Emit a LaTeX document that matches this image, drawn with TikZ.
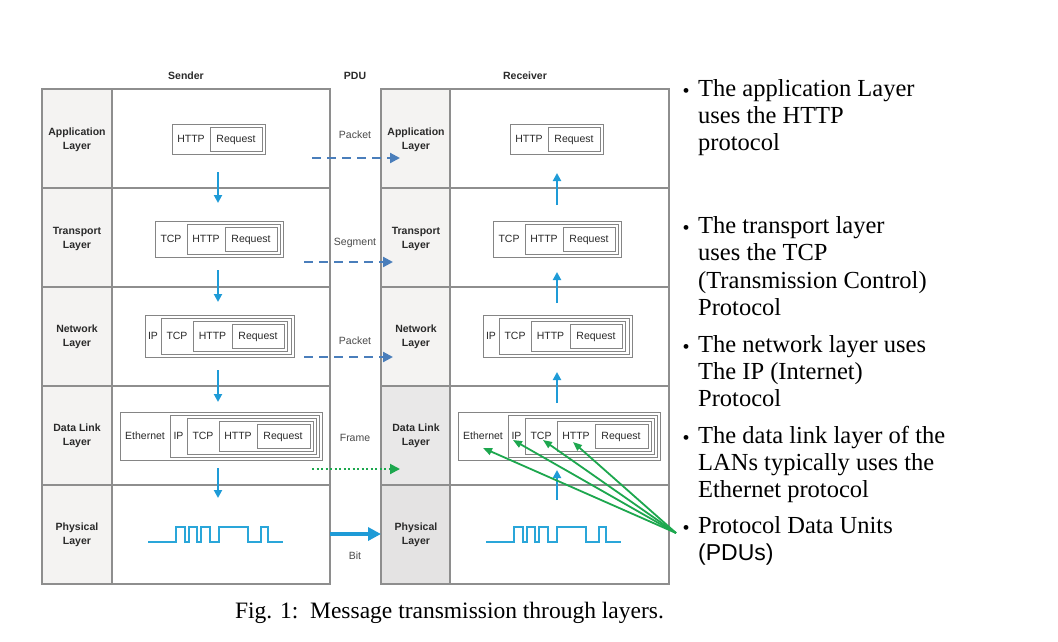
\documentclass[tikz,border=0pt]{standalone}
\usepackage{fontspec}
\setmainfont{Liberation Serif}
\newfontfamily\arialf{Liberation Sans}
\usetikzlibrary{arrows.meta,calc}

\definecolor{tblline}{HTML}{8E8E8E}
\definecolor{lblfill}{HTML}{F4F3F2}
\definecolor{lblfillB}{HTML}{E9E8E8}
\definecolor{lblfillC}{HTML}{E4E3E3}
\definecolor{boxline}{HTML}{858585}
\definecolor{txt}{HTML}{2A2A2A}
\definecolor{pdutxt}{HTML}{4A4A4A}
\definecolor{cyanarr}{HTML}{1E9BD7}
\definecolor{dasharr}{HTML}{4A7EBB}
\definecolor{grn}{HTML}{1DA74E}
\definecolor{wavec}{HTML}{2AA6D9}

\newcommand\nbox[4]{\draw[boxdraw] (#1,{#3-#4}) rectangle (#2,{#3+#4});}

\newcommand\stackboxes[1]{%
  % application
  \nbox{172}{265}{139}{15}\nbox{210}{262}{139}{12}
  \node[boxtxt] (#1-a-http) at (191,139) {HTTP};
  \node[boxtxt] (#1-a-req) at (236,139) {Request};
  % transport
  \nbox{155}{283}{239}{18}\nbox{187}{280}{239}{15}\nbox{225}{277}{239}{12}
  \node[boxtxt] (#1-t-tcp) at (171,239) {TCP};
  \node[boxtxt] (#1-t-http) at (206,239) {HTTP};
  \node[boxtxt] (#1-t-req) at (251,239) {Request};
  % network
  \nbox{145}{294}{336}{21}\nbox{161}{291}{336}{18}\nbox{193}{287.5}{336}{15}\nbox{232}{284}{336}{12}
  \node[boxtxt] (#1-n-ip) at (153,336) {IP};
  \node[boxtxt] (#1-n-tcp) at (177,336) {TCP};
  \node[boxtxt] (#1-n-http) at (212.5,336) {HTTP};
  \node[boxtxt] (#1-n-req) at (258,336) {Request};
  % data link
  \nbox{120}{322}{436}{24}\nbox{170}{319}{436}{21}\nbox{187}{316}{436}{18}\nbox{219}{313}{436}{15}\nbox{257}{310}{436}{12}
  \node[boxtxt] (#1-d-eth) at (145,436) {Ethernet};
  \node[boxtxt] (#1-d-ip) at (178.5,436) {IP};
  \node[boxtxt] (#1-d-tcp) at (203,436) {TCP};
  \node[boxtxt] (#1-d-http) at (238,436) {HTTP};
  \node[boxtxt] (#1-d-req) at (283,436) {Request};
  % physical signal
  \draw[wavestyle] (148,542) -- ++(28.3,0) -- ++(0,-15) -- ++(8.4,0) -- ++(0,15)
    -- ++(4.3,0) -- ++(0,-15) -- ++(8,0) -- ++(0,15)
    -- ++(4.3,0) -- ++(0,-15) -- ++(8.4,0) -- ++(0,15)
    -- ++(9,0) -- ++(0,-15) -- ++(29.3,0) -- ++(0,15)
    -- ++(13.3,0) -- ++(0,-15) -- ++(6.7,0) -- ++(0,15) -- ++(15,0);
}

\begin{document}
\begin{tikzpicture}[x=1pt,y=-1pt,
  tbl/.style={draw=tblline,line width=1.3pt},
  boxdraw/.style={draw=boxline,line width=0.9pt},
  boxtxt/.style={font=\arialf\fontsize{10.5}{13}\selectfont,text=txt,inner sep=0pt,text height=7.6pt,text depth=0pt},
  layerlbl/.style={font=\arialf\bfseries\fontsize{10.5}{14}\selectfont,text=txt,inner sep=0pt,align=center},
  headlbl/.style={font=\arialf\bfseries\fontsize{10.5}{13}\selectfont,text=txt,inner sep=0pt},
  pdulbl/.style={font=\arialf\fontsize{10.5}{13}\selectfont,text=pdutxt,inner sep=0pt},
  flowarrow/.style={draw=cyanarr,line width=2pt,-{Triangle[length=8pt,width=8pt]}},
  pduarrow/.style={draw=dasharr,line width=2.2pt,dash pattern=on 9pt off 6pt,-{Triangle[length=10pt,width=10pt]}},
  framearrow/.style={draw=grn,line width=2pt,dash pattern=on 2pt off 2.5pt,-{Triangle[length=10pt,width=10pt]}},
  bitarrow/.style={draw=cyanarr,line width=4pt,-{Triangle[length=13pt,width=13pt]}},
  pointer/.style={draw=grn,line width=1.8pt,-{Triangle[length=9pt,width=7pt]}},
  wavestyle/.style={draw=wavec,line width=1.8pt},
  bodytxt/.style={font=\fontsize{24.5}{27}\selectfont,inner sep=0pt,anchor=base west},
  bullettxt/.style={font=\fontsize{20}{20}\selectfont,inner sep=0pt},
]
\fill[white] (0,0) rectangle (1058,641);
\useasboundingbox (0,0) rectangle (1058,641);

% ---------- tables ----------
\fill[lblfill] (42,89) rectangle (112,584);
\fill[lblfill] (381,89) rectangle (450,386);
\fill[lblfillB] (381,386) rectangle (450,485);
\fill[lblfillC] (381,485) rectangle (450,584);
\draw[tbl] (42,89) rectangle (330,584);
\draw[tbl] (112,89) -- (112,584);
\draw[tbl] (381,89) rectangle (669,584);
\draw[tbl] (450,89) -- (450,584);
\foreach \yy in {188,287,386,485} {
  \draw[tbl] (42,\yy) -- (330,\yy);
  \draw[tbl] (381,\yy) -- (669,\yy);
}

% ---------- headers ----------
\node[headlbl] (hsender) at (186,76) {Sender};
\node[headlbl] (hpdu) at (355,76) {PDU};
\node[headlbl] (hreceiver) at (525,76) {Receiver};

% ---------- layer labels ----------
\foreach \side/\xx in {s/77,r/416} {
  \node[layerlbl] (\side-l1) at (\xx,140) {Application\\Layer};
  \node[layerlbl] (\side-l2) at (\xx,239) {Transport\\Layer};
  \node[layerlbl] (\side-l3) at (\xx,337) {Network\\Layer};
  \node[layerlbl] (\side-l4) at (\xx,436) {Data Link\\Layer};
  \node[layerlbl] (\side-l5) at (\xx,535) {Physical\\Layer};
}

% ---------- PDU labels ----------
\node[pdulbl] (p1) at (355,135) {Packet};
\node[pdulbl] (p2) at (355,243) {Segment};
\node[pdulbl] (p3) at (355,341) {Packet};
\node[pdulbl] (p4) at (355,438) {Frame};
\node[pdulbl] (p5) at (355,556) {Bit};

% ---------- stacks ----------
\stackboxes{s}
\begin{scope}[xshift=338pt]
\stackboxes{r}
\end{scope}

% ---------- vertical flow arrows ----------
\foreach \ta/\hb [count=\i] in {172/203, 270/302, 370/402, 468/498} {
  \coordinate (sd\i a) at (218,\ta);
  \coordinate (sd\i b) at (218,\hb);
  \draw[flowarrow] (sd\i a) -- (sd\i b);
}
\foreach \ta/\hb [count=\i] in {500/470, 403/372, 303/272, 205/173} {
  \coordinate (ru\i a) at (557,\ta);
  \coordinate (ru\i b) at (557,\hb);
  \draw[flowarrow] (ru\i a) -- (ru\i b);
}

% ---------- PDU arrows ----------
\coordinate (pa1) at (312,158); \coordinate (pb1) at (400,158);
\coordinate (pa2) at (304,262); \coordinate (pb2) at (393,262);
\coordinate (pa3) at (304,357); \coordinate (pb3) at (393,357);
\coordinate (pa4) at (312,469); \coordinate (pb4) at (400,469);
\coordinate (pa5) at (330,534); \coordinate (pb5) at (381,534);
\draw[pduarrow] (pa1) -- (pb1);
\draw[pduarrow] (pa2) -- (pb2);
\draw[pduarrow] (pa3) -- (pb3);
\draw[framearrow] (pa4) -- (pb4);
\draw[bitarrow] (pa5) -- (pb5);

% ---------- green pointers ----------
\coordinate (pdus) at (676,533);
\draw[pointer] (pdus) -- ($(r-d-eth.center)+(0,12)$);
\draw[pointer] (pdus) -- ($(r-d-ip.center)+(-3.5,4)$);
\draw[pointer] (pdus) -- ($(r-d-tcp.center)+(2,4)$);
\draw[pointer] (pdus) -- ($(r-d-http.center)+(-3,6)$);

% ---------- right text ----------
\foreach \bb/\yy in {b1/93,b2/230,b3/349,b4/440,b5/530} {
  \node[bullettxt] (\bb) at (686,\yy) {•};
}
\node[bodytxt] (t11) at (698,96) {The application Layer};
\node[bodytxt] (t12) at (698,123) {uses the HTTP};
\node[bodytxt] (t13) at (698,150) {protocol};
\node[bodytxt] (t21) at (698,233) {The transport layer};
\node[bodytxt] (t22) at (698,260) {uses the TCP};
\node[bodytxt] (t23) at (698,288) {(Transmission Control)};
\node[bodytxt] (t24) at (698,315) {Protocol};
\node[bodytxt] (t31) at (698,352) {The network layer uses};
\node[bodytxt] (t32) at (698,379) {The IP (Internet)};
\node[bodytxt] (t33) at (698,406) {Protocol};
\node[bodytxt] (t41) at (698,443) {The data link layer of the};
\node[bodytxt] (t42) at (698,470) {LANs typically uses the};
\node[bodytxt] (t43) at (698,497) {Ethernet protocol};
\node[bodytxt] (t51) at (698,533) {Protocol Data Units};
\node[bodytxt,font=\arialf\fontsize{23}{27}\selectfont] (t52) at (698,560) {(PDUs)};

% ---------- caption ----------
\node[font=\fontsize{23.5}{27}\selectfont,inner sep=0pt,anchor=base] (caption) at (449.5,618) {Fig. 1:\ \ Message transmission through layers.};
\end{tikzpicture}
\end{document}
